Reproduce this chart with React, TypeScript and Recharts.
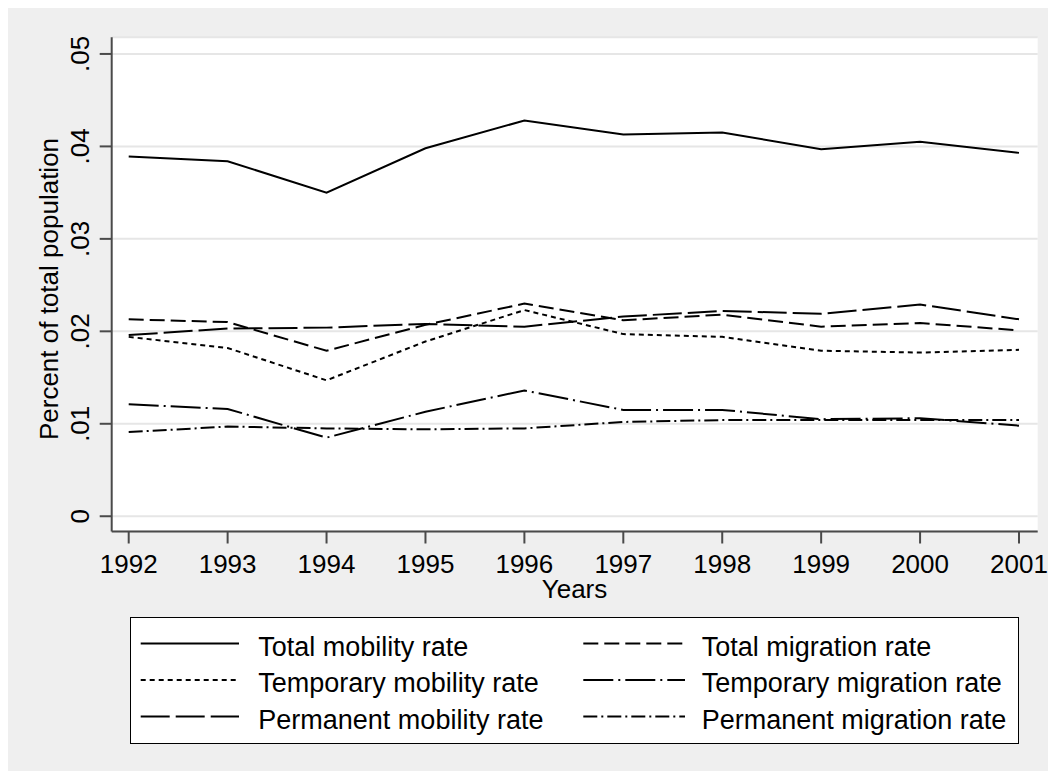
import React from "react";
import { LineChart, Line, XAxis, YAxis, CartesianGrid, Label } from "recharts";

const years = ["1992", "1993", "1994", "1995", "1996", "1997", "1998", "1999", "2000", "2001"];
const totalMobility = [0.0389, 0.0384, 0.035, 0.0398, 0.0428, 0.0413, 0.0415, 0.0397, 0.0405, 0.0393];
const totalMigration = [0.0213, 0.021, 0.0179, 0.0207, 0.023, 0.0212, 0.0218, 0.0205, 0.0209, 0.0201];
const temporaryMobility = [0.0194, 0.0182, 0.0147, 0.0189, 0.0223, 0.0197, 0.0194, 0.0179, 0.0177, 0.018];
const temporaryMigration = [0.0121, 0.0116, 0.0085, 0.0113, 0.0136, 0.0115, 0.0115, 0.0105, 0.0106, 0.0098];
const permanentMobility = [0.0196, 0.0203, 0.0204, 0.0208, 0.0205, 0.0216, 0.0222, 0.0219, 0.0229, 0.0213];
const permanentMigration = [0.0091, 0.0097, 0.0095, 0.0094, 0.0095, 0.0102, 0.0104, 0.0104, 0.0104, 0.0104];
const yTicks = [0, 0.01, 0.02, 0.03, 0.04, 0.05];

const series = [
  { key: "totalMobility", name: "Total mobility rate", values: totalMobility, dash: undefined },
  { key: "totalMigration", name: "Total migration rate", values: totalMigration, dash: "15 6" },
  { key: "temporaryMobility", name: "Temporary mobility rate", values: temporaryMobility, dash: "5 4" },
  { key: "temporaryMigration", name: "Temporary migration rate", values: temporaryMigration, dash: "30 5 2 5" },
  { key: "permanentMobility", name: "Permanent mobility rate", values: permanentMobility, dash: "29 6" },
  { key: "permanentMigration", name: "Permanent migration rate", values: permanentMigration, dash: "14 4 2 4" },
];

const data = years.map((y, i) => {
  const row: any = { year: y };
  series.forEach((s) => (row[s.key] = s.values[i]));
  return row;
});

const FONT = '"Liberation Sans", Arial, Helvetica, sans-serif';
const AXIS = "#4a4a4a";

const fmt = (v: number) => (v === 0 ? "0" : v.toFixed(2).replace(/^0/, ""));

const YTick = (props: any) => {
  const { x, y, payload } = props;
  return (
    <text
      x={x}
      y={y}
      transform={`rotate(-90 ${x} ${y})`}
      textAnchor="middle"
      fontSize={26}
      fontFamily={FONT}
      fill="#000"
    >
      {fmt(payload.value)}
    </text>
  );
};

const legendCols = [
  { lx1: 10.7, lx2: 109, tx: 128.3 },
  { lx1: 453.3, lx2: 555, tx: 571.7 },
];
const legendRows = [38.5, 75, 111.5];

const LegendBox = () => (
  <div
    style={{
      position: "absolute",
      left: 122,
      top: 609,
      width: 889,
      height: 127,
      background: "#fff",
      border: "1px solid #000",
      boxSizing: "border-box",
    }}
  >
    <svg width={889} height={127} style={{ position: "absolute", left: -1, top: -1 }}>
      {series.map((s, i) => {
        const c = legendCols[i % 2];
        const b = legendRows[Math.floor(i / 2)];
        return (
          <g key={s.key}>
            <line
              x1={c.lx1}
              x2={c.lx2}
              y1={b - 12}
              y2={b - 12}
              stroke="#000"
              strokeWidth={2}
              strokeDasharray={s.dash}
            />
            <text x={c.tx} y={b} fontSize={27} fontFamily={FONT} fill="#000">
              {s.name}
            </text>
          </g>
        );
      })}
    </svg>
  </div>
);

export default function App() {
  return (
    <div style={{ position: "relative", width: 1048, height: 763, background: "#efefef" }}>
      <LineChart
        width={1048}
        height={763}
        data={data}
        margin={{ top: 29.3, right: 18.3, left: 0, bottom: 179.5 }}
      >
        <CartesianGrid
          vertical={false}
          horizontal={true}
          stroke="#e6e6e6"
          strokeWidth={2}
          fill="#ffffff"
          fillOpacity={1}
        />
        <XAxis
          dataKey="year"
          type="category"
          height={60}
          padding={{ left: 17, right: 18.7 }}
          tickSize={12}
          tickMargin={11}
          interval={0}
          axisLine={{ stroke: AXIS, strokeWidth: 2 }}
          tickLine={{ stroke: AXIS, strokeWidth: 2 }}
          tick={{ fontSize: 26, fill: "#000", fontFamily: FONT }}
        >
          <Label
            content={() => (
              <text x={566.5} y={590} textAnchor="middle" fontSize={26} fontFamily={FONT} fill="#000">
                Years
              </text>
            )}
          />
        </XAxis>
        <YAxis
          type="number"
          width={103.7}
          domain={[-0.00165, 0.0518]}
          ticks={yTicks}
          allowDataOverflow
          tickSize={12}
          tickMargin={10.7}
          axisLine={{ stroke: AXIS, strokeWidth: 2 }}
          tickLine={{ stroke: AXIS, strokeWidth: 2 }}
          tick={<YTick />}
        >
          <Label
            content={() => (
              <text
                x={50}
                y={281}
                transform="rotate(-90 50 281)"
                textAnchor="middle"
                fontSize={26}
                fontFamily={FONT}
                fill="#000"
              >
                Percent of total population
              </text>
            )}
          />
        </YAxis>
        {series.map((s) => (
          <Line
            key={s.key}
            dataKey={s.key}
            name={s.name}
            type="linear"
            stroke="#000"
            strokeWidth={2}
            strokeDasharray={s.dash}
            dot={false}
            activeDot={false}
            isAnimationActive={false}
          />
        ))}
      </LineChart>
      <LegendBox />
    </div>
  );
}
